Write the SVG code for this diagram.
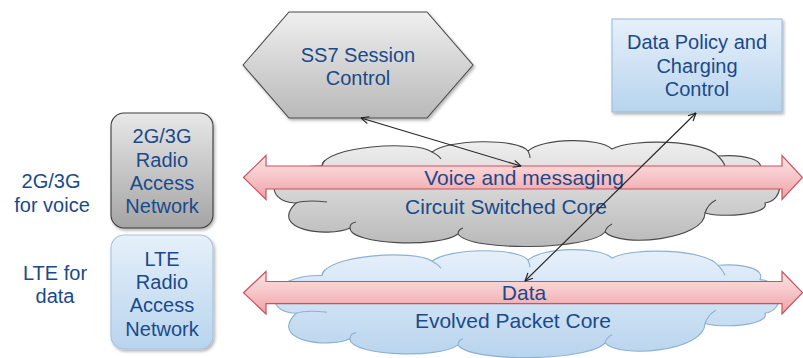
<svg xmlns="http://www.w3.org/2000/svg" width="803" height="358" viewBox="0 0 803 358">
  <style>
    .lbl { font-family: "Liberation Sans", Arial, sans-serif; font-size: 20px; fill: #1b4a8a; text-anchor: middle; }
    .big { font-size: 21px; }
    .conn { stroke: #222; stroke-width: 1.1; fill: none; marker-start: url(#ah); marker-end: url(#ah); }
    .band { fill: url(#gPink); stroke: #c9525b; stroke-width: 1.2; }
    .inner { fill: none; }
  </style>
  <defs>
    <linearGradient id="gGrey" x1="0" y1="0" x2="0" y2="1">
      <stop offset="0" stop-color="#efefef"/>
      <stop offset="1" stop-color="#b9b9b9"/>
    </linearGradient>
    <linearGradient id="gGreyBox" x1="0" y1="0" x2="0" y2="1">
      <stop offset="0" stop-color="#e8e8e8"/>
      <stop offset="1" stop-color="#a4a4a4"/>
    </linearGradient>
    <linearGradient id="gBlue" x1="0" y1="0" x2="0" y2="1">
      <stop offset="0" stop-color="#e6f0fa"/>
      <stop offset="1" stop-color="#b8d4ee"/>
    </linearGradient>
    <linearGradient id="gPink" x1="0" y1="0" x2="0" y2="1">
      <stop offset="0" stop-color="#fbe4e5"/>
      <stop offset="0.5" stop-color="#f6c5c8"/>
      <stop offset="1" stop-color="#ef9fa4"/>
    </linearGradient>
    <filter id="shadow" x="-10%" y="-10%" width="125%" height="130%">
      <feDropShadow dx="1.5" dy="2" stdDeviation="1.5" flood-color="#000" flood-opacity="0.3"/>
    </filter>
    <marker id="ah" viewBox="0 0 10 10" refX="9.5" refY="5" markerWidth="9" markerHeight="9" markerUnits="userSpaceOnUse" orient="auto-start-reverse">
      <path d="M1,1 L9.5,5 L1,9" fill="none" stroke="#222" stroke-width="1.3"/>
    </marker>
    <!-- cloud outline with a few inner arcs, drawn in the upper cloud's coordinates -->
    <g id="cloud">
      <path d="M296,203 C262,202 266,165 322,166 C324,146 415,140 432,152 C448,139 518,138 528,151 C542,138 600,137 612,149 C632,138 706,140 718,156 C745,154 765,160 760,170 C785,172 785,200 765,203 C770,215 720,218 705,213 C705,240 620,248 605,232 C590,250 470,252 458,234 C440,248 350,245 350,228 C328,238 268,230 296,203 Z"/>
      <path class="inner" d="M296,203 C305,200 318,201 327,202"/>
      <path class="inner" d="M350,228 C350,224 352,223 356,222"/>
      <path class="inner" d="M705,213 C707,207 710,203 716,200"/>
      <path class="inner" d="M605,232 C606,228 608,226 612,224"/>
      <path class="inner" d="M458,234 C458,231 460,229 463,228"/>
      <path class="inner" d="M322,166 C322,164 323,162 325,160"/>
      <path class="inner" d="M432,152 C436,154 439,156 441,159"/>
      <path class="inner" d="M528,151 C529,153 530,155 530,158"/>
      <path class="inner" d="M718,156 C722,160 724,163 725,166"/>
    </g>
  </defs>

  <!-- core network clouds -->
  <g id="cs-core">
    <use href="#cloud" fill="url(#gGrey)" stroke="#4a4a4a" stroke-width="1.1"/>
  </g>
  <g id="packet-core">
    <use href="#cloud" transform="translate(0,250) scale(1,1.02) translate(0,-141)" fill="url(#gBlue)" stroke="#8db0d0" stroke-width="1.1"/>
  </g>

  <!-- traffic bands -->
  <g id="voice-band">
    <path class="band" d="M243.5,177.5 L266,155.5 L266,166 L782,166 L782,155.5 L802.5,177.5 L782,199.5 L782,189 L266,189 L266,199.5 Z"/>
  </g>
  <g id="data-band">
    <path class="band" d="M243.5,292.7 L266,271.5 L266,281.5 L782,281.5 L782,271.5 L802.5,292.7 L782,314 L782,303.7 L266,303.7 L266,314 Z"/>
  </g>

  <g id="cloud-labels">
    <text class="lbl big" x="524" y="185">Voice and messaging</text>
    <text class="lbl big" x="506" y="214">Circuit Switched Core</text>
    <text class="lbl big" x="524" y="300">Data</text>
    <text class="lbl big" x="513" y="327.5">Evolved Packet Core</text>
  </g>

  <!-- SS7 session control -->
  <g id="ss7">
    <polygon points="243,65 289,12 427,12 473,65 427,118 289,118" fill="url(#gGrey)" stroke="#4a4a4a" stroke-width="1.1" filter="url(#shadow)"/>
    <text class="lbl" x="358" y="62">SS7 Session</text>
    <text class="lbl" x="358" y="85">Control</text>
  </g>

  <!-- policy and charging -->
  <g id="pcrf">
    <rect x="612" y="19" width="170" height="93" fill="url(#gBlue)" stroke="#9dbcd9" stroke-width="1.1" filter="url(#shadow)"/>
    <text class="lbl" x="697" y="49">Data Policy and</text>
    <text class="lbl" x="697" y="72.5">Charging</text>
    <text class="lbl" x="697" y="96">Control</text>
  </g>

  <!-- radio access networks -->
  <g id="ran-2g3g">
    <rect x="111" y="113" width="102" height="115" rx="13" fill="url(#gGreyBox)" stroke="#3d3d3d" stroke-width="1.1" filter="url(#shadow)"/>
    <text class="lbl" x="162" y="143">2G/3G</text>
    <text class="lbl" x="162" y="166.5">Radio</text>
    <text class="lbl" x="162" y="190">Access</text>
    <text class="lbl" x="162" y="213">Network</text>
  </g>
  <g id="ran-lte">
    <rect x="111" y="235" width="102" height="114" rx="13" fill="url(#gBlue)" stroke="#a6c3de" stroke-width="1.1" filter="url(#shadow)"/>
    <text class="lbl" x="162" y="265.5">LTE</text>
    <text class="lbl" x="162" y="289">Radio</text>
    <text class="lbl" x="162" y="312">Access</text>
    <text class="lbl" x="162" y="335.5">Network</text>
  </g>

  <g id="side-labels">
    <text class="lbl" x="51" y="188">2G/3G</text>
    <text class="lbl" x="52" y="211.5">for voice</text>
    <text class="lbl" x="55" y="280">LTE for</text>
    <text class="lbl" x="55" y="303">data</text>
  </g>

  <!-- control links -->
  <g id="connectors">
    <line class="conn" x1="361" y1="118" x2="521" y2="166"/>
    <line class="conn" x1="696" y1="113" x2="525" y2="281"/>
  </g>
</svg>
